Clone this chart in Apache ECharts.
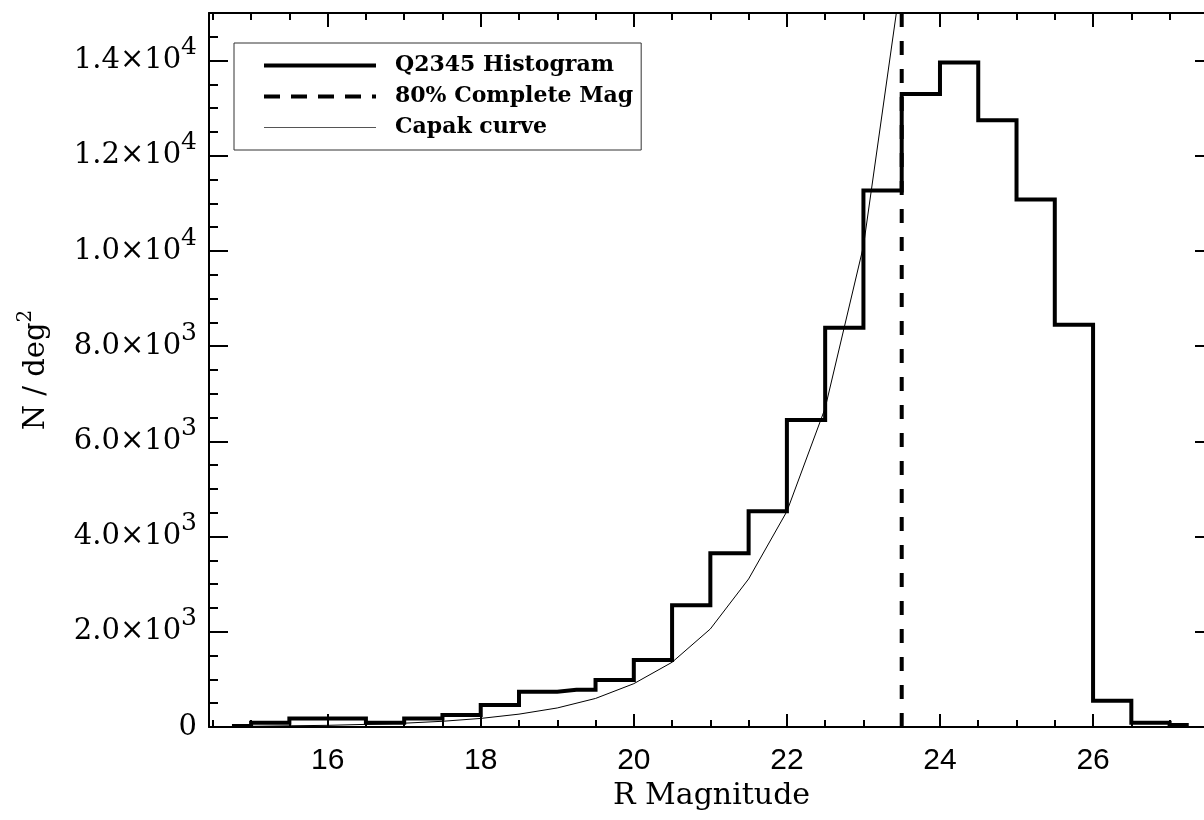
<!DOCTYPE html>
<html>
<head>
<meta charset="utf-8">
<title>R Magnitude histogram</title>
<script src="https://cdn.jsdelivr.net/npm/echarts@6/dist/echarts.min.js"></script>
<style>
  html, body { margin: 0; padding: 0; background: #fff; overflow: hidden; }
  /* the right frame edge sits just past the 1204px window, like the original */
  #RMagChart { width: 1220px; height: 820px; }
</style>
</head>
<body>
<div id="RMagChart"></div>
<script>
// bin centres (R mag) and counts per deg^2
var magBins = [14.75, 15.25, 15.75, 16.25, 16.75, 17.25, 17.75, 18.25, 18.75, 19.25, 19.75, 20.25, 20.75,
               21.25, 21.75, 22.25, 22.75, 23.25, 23.75, 24.25, 24.75, 25.25, 25.75, 26.25, 26.75, 27.25];
var histCounts = [20, 90, 180, 180, 90, 180, 250, 460, 740, 780, 990, 1410, 2560,
                  3650, 4530, 6450, 8390, 11270, 13300, 13960, 12745, 11080, 8450, 553, 90, 40];

// Capak number counts curve
var capakMag = [15.0, 15.5, 16.0, 16.5, 17.0, 17.5, 18.0, 18.5, 19.0, 19.5, 20.0, 20.5, 21.0, 21.5, 22.0, 22.5, 23.0, 23.5];
var capakCounts = [15, 25, 35, 55, 80, 120, 180, 270, 400, 600, 910, 1360, 2060, 3110, 4530, 6700, 10100, 15800];

// 80% completeness limit
var completeMag = 23.5;

// ticks
var xMajorTicks = [16, 18, 20, 22, 24, 26];
var xMinorTicks = [14.5, 15, 15.5, 16.5, 17, 17.5, 18.5, 19, 19.5, 20.5, 21, 21.5, 22.5, 23, 23.5, 24.5, 25, 25.5, 26.5, 27, 27.5];
var yMajorTicks = [0, 2000, 4000, 6000, 8000, 10000, 12000, 14000];
var yTickLabels = ['0', '2.0×10|3', '4.0×10|3', '6.0×10|3', '8.0×10|3', '1.0×10|4', '1.2×10|4', '1.4×10|4'];
var yMinorTicks = [500, 1000, 1500, 2500, 3000, 3500, 4500, 5000, 5500, 6500, 7000, 7500, 8500, 9000, 9500,
                   10500, 11000, 11500, 12500, 13000, 13500, 14500];

var xMin = 14.45, xMax = 27.58, yMin = 0, yMax = 15000;

var serifFont = '"DejaVu Serif", serif';
var blackLine = { color: '#000', width: 2 };

function zip(xs, ys) {
    var out = [];
    for (var i = 0; i < xs.length; i++) {
        out.push([xs[i], ys[i]]);
    }
    return out;
}

// one frame axis (ticks only)
function xFrame(pos, ticks, len, showLine) {
    return {
        type: 'value', position: pos, min: xMin, max: xMax,
        axisLine: { show: showLine, onZero: false, lineStyle: blackLine },
        axisTick: { show: true, inside: true, length: len, customValues: ticks, lineStyle: blackLine },
        axisLabel: { show: false },
        splitLine: { show: false }
    };
}
function yFrame(pos, ticks, len, showLine) {
    return {
        type: 'value', position: pos, min: yMin, max: yMax,
        axisLine: { show: showLine, onZero: false, lineStyle: blackLine },
        axisTick: { show: true, inside: true, length: len, customValues: ticks, lineStyle: blackLine },
        axisLabel: { show: false },
        splitLine: { show: false }
    };
}

var myChart = echarts.init(document.getElementById('RMagChart'));

var xBottom = xFrame('bottom', xMajorTicks, 13, true);
xBottom.axisLabel = {
    show: true, customValues: xMajorTicks, margin: 19,
    fontFamily: '"Liberation Sans", Arial, sans-serif', fontSize: 30, color: '#000'
};
xBottom.name = 'R Magnitude';
xBottom.nameLocation = 'middle';
xBottom.nameGap = 50;
xBottom.nameTextStyle = { fontFamily: serifFont, fontSize: 30, color: '#000' };

var yLeft = yFrame('left', yMajorTicks, 19, true);
yLeft.axisLabel = {
    show: true, customValues: yMajorTicks, margin: 12,
    formatter: function (v) {
        var idx = yMajorTicks.indexOf(v);
        var parts = yTickLabels[idx].split('|');
        if (parts.length < 2) {
            return '{b|' + parts[0] + '}';
        }
        return '{b|' + parts[0] + '}{s|' + parts[1] + '}';
    },
    rich: {
        b: { fontFamily: serifFont, fontSize: 29, color: '#000', lineHeight: 29, verticalAlign: 'bottom' },
        s: { fontFamily: serifFont, fontSize: 25, color: '#000', lineHeight: 25, verticalAlign: 'bottom', padding: [0, 0, 15, 0] }
    }
};
yLeft.name = '{n|N / deg}{s|2}';
yLeft.nameLocation = 'middle';
yLeft.nameGap = 158;
yLeft.nameTextStyle = {
    rich: {
        n: { fontFamily: serifFont, fontSize: 29, color: '#000', lineHeight: 29, verticalAlign: 'bottom' },
        s: { fontFamily: serifFont, fontSize: 20, color: '#000', lineHeight: 20, verticalAlign: 'bottom', padding: [0, 0, 15, 0] }
    }
};

var option = {
    backgroundColor: '#fff',
    animation: false,
    grid: { left: 209, top: 13, width: 1005, height: 714 },
    legend: {
        orient: 'vertical',
        left: 234, top: 43,
        padding: [11, 8, 11, 28],
        itemGap: 8,
        itemWidth: 112, itemHeight: 14,
        borderColor: '#333', borderWidth: 1,
        itemStyle: { color: 'rgba(0,0,0,0)', borderWidth: 0, opacity: 0 },
        textStyle: { fontFamily: serifFont, fontWeight: 'bold', fontSize: 22, color: '#000', lineHeight: 23, padding: [0, 0, 0, 14] },
        data: [
            { name: 'Q2345 Histogram', lineStyle: { width: 4, color: '#000' } },
            { name: '80% Complete Mag', lineStyle: { width: 4, color: '#000', type: [16, 11] } },
            { name: 'Capak curve', lineStyle: { width: 1, color: '#555' } }
        ]
    },
    xAxis: [
        xBottom,
        xFrame('bottom', xMinorTicks, 7, false),
        xFrame('top', xMajorTicks, 14, true),
        xFrame('top', xMinorTicks, 7, false)
    ],
    yAxis: [
        yLeft,
        yFrame('left', yMinorTicks, 9, false),
        yFrame('right', yMajorTicks, 19, true),
        yFrame('right', yMinorTicks, 9, false)
    ],
    series: [
        {
            name: 'Capak curve', type: 'line', symbol: 'none', clip: true,
            data: zip(capakMag, capakCounts),
            lineStyle: { color: '#000', width: 1 },
            itemStyle: { color: '#000' }
        },
        {
            name: 'Q2345 Histogram', type: 'line', step: 'middle', symbol: 'none', clip: true,
            data: zip(magBins, histCounts),
            lineStyle: { color: '#000', width: 4, join: 'miter' },
            itemStyle: { color: '#000' }
        },
        {
            // drawn top-down so the dash pattern starts at the upper frame
            name: '80% Complete Mag', type: 'line', symbol: 'none', clip: true,
            data: [[completeMag, yMax], [completeMag, yMin]],
            lineStyle: { color: '#000', width: 4, type: [14, 14] },
            itemStyle: { color: '#000' }
        }
    ]
};

myChart.setOption(option);
</script>
</body>
</html>
